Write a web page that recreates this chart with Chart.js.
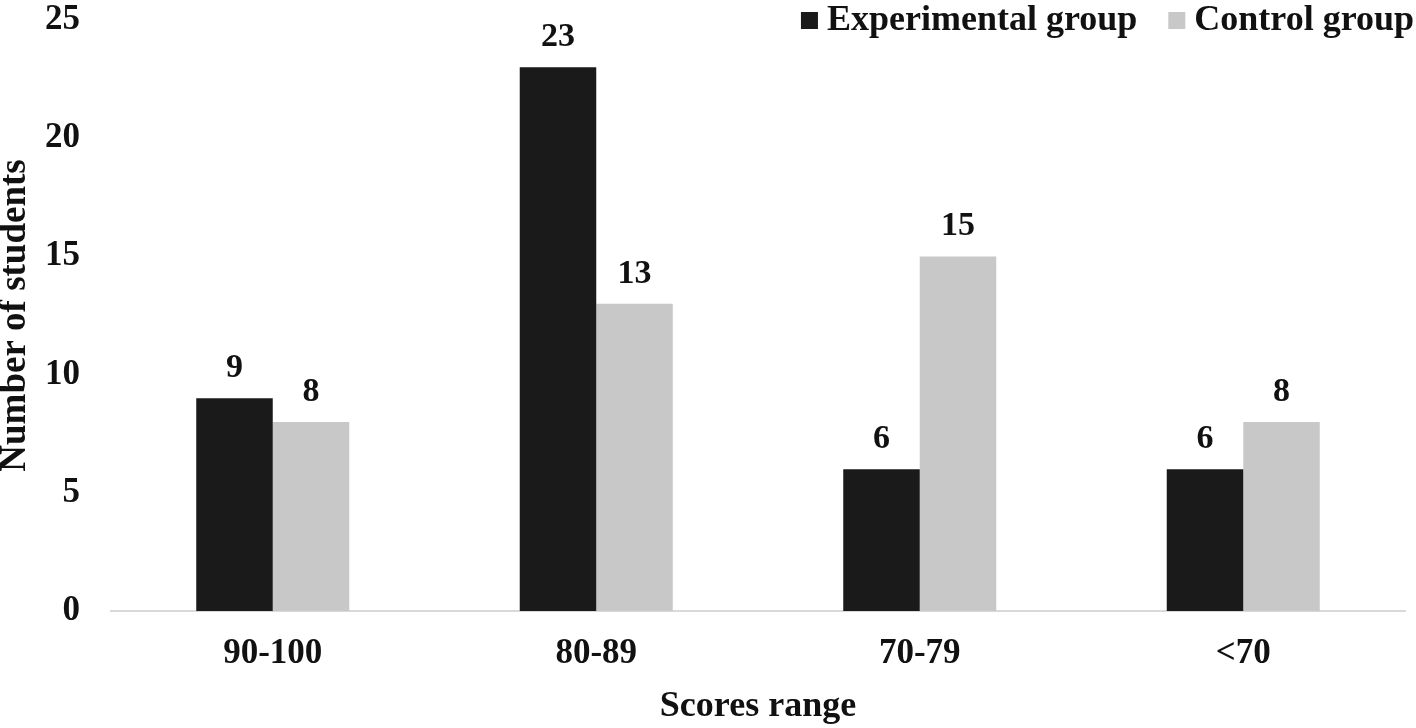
<!DOCTYPE html>
<html><head><meta charset="utf-8">
<script src="https://cdn.jsdelivr.net/npm/chart.js@4/dist/chart.umd.min.js"></script>
<style>html,body{margin:0;padding:0;background:#fff;}#wrap{width:1416px;height:728px;}</style>
</head><body><div id="wrap"><canvas id="c" width="1416" height="728"></canvas></div>
<script>
const categories = ["90-100", "80-89", "70-79", "<70"];
const experimental = [9, 23, 6, 6];
const control = [8, 13, 15, 8];
const yTicks = [0, 5, 10, 15, 20, 25];
const seriesNames = ["Experimental group", "Control group"];

const FONT = '"Liberation Serif", "Times New Roman", serif';

const valueLabels = {
  id: 'valueLabels',
  afterDatasetsDraw(chart) {
    const ctx = chart.ctx;
    ctx.save();
    ctx.font = 'bold 34px ' + FONT;
    ctx.fillStyle = '#111';
    ctx.textAlign = 'center';
    ctx.textBaseline = 'alphabetic';
    chart.data.datasets.forEach((ds, i) => {
      chart.getDatasetMeta(i).data.forEach((el, j) => {
        ctx.fillText(String(ds.data[j]), el.x, el.y - 21);
      });
    });
    ctx.restore();
  }
};

const topLegend = {
  id: 'topLegend',
  afterDraw(chart) {
    const ctx = chart.ctx;
    ctx.save();
    ctx.font = 'bold 36px ' + FONT;
    ctx.textBaseline = 'alphabetic';
    ctx.textAlign = 'left';
    const ds = chart.data.datasets;
    let x = 1414;
    const base = 30;
    const box = 17;
    for (let i = ds.length - 1; i >= 0; i--) {
      const w = ctx.measureText(ds[i].label).width;
      x -= w;
      ctx.fillStyle = '#111';
      ctx.fillText(ds[i].label, x, base);
      x -= 9 + box;
      ctx.fillStyle = ds[i].backgroundColor;
      ctx.fillRect(x, 12, box, box);
      x -= 31;
    }
    ctx.restore();
  }
};

new Chart(document.getElementById('c'), {
  type: 'bar',
  data: {
    labels: categories,
    datasets: [
      { label: seriesNames[0], data: experimental, backgroundColor: '#1a1a1a', borderWidth: 0 },
      { label: seriesNames[1], data: control, backgroundColor: '#c8c8c8', borderWidth: 0 }
    ]
  },
  options: {
    responsive: false,
    animation: false,
    layout: { padding: { top: 20, right: 11, left: 0, bottom: 0 } },
    plugins: { legend: { display: false }, tooltip: { enabled: false } },
    datasets: { bar: { categoryPercentage: 0.473, barPercentage: 1.0 } },
    scales: {
      x: {
        afterFit(axis) { axis.height = 117; axis.paddingLeft = 0; axis.paddingRight = 0; },
        grid: { display: false, drawTicks: false },
        border: { display: true, color: '#d9d9d9', width: 2 },
        ticks: { color: '#111', font: { family: FONT, size: 35, weight: 'bold' }, padding: 22 },
        title: { display: true, text: 'Scores range', color: '#111', font: { family: FONT, size: 36, weight: 'bold' }, padding: { top: 0, bottom: 0 } }
      },
      y: {
        min: 0, max: 25,
        afterBuildTicks(axis) { axis.ticks = yTicks.map(v => ({ value: v })); },
        afterFit(axis) { axis.width = 111; axis.paddingTop = 0; axis.paddingBottom = 0; },
        grid: { display: false, drawTicks: false },
        border: { display: false },
        ticks: { color: '#111', font: { family: FONT, size: 35, weight: 'bold' }, padding: 31 },
        title: { display: true, text: 'Number of students', color: '#111', font: { family: FONT, size: 37, weight: 'bold' }, padding: { top: -7, bottom: 0 } }
      }
    }
  },
  plugins: [valueLabels, topLegend]
});
</script>
</body></html>
